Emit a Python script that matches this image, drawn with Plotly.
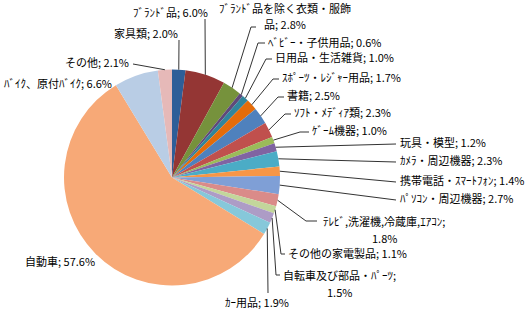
import math
import plotly.graph_objects as go

# ---- data ----
categories = [
    "家具類", "ﾌﾞﾗﾝﾄﾞ品", "ﾌﾞﾗﾝﾄﾞ品を除く衣類・服飾品", "ﾍﾞﾋﾞｰ・子供用品", "日用品・生活雑貨",
    "ｽﾎﾟｰﾂ・ﾚｼﾞｬｰ用品", "書籍", "ｿﾌﾄ・ﾒﾃﾞｨｱ類", "ｹﾞｰﾑ機器", "玩具・模型",
    "ｶﾒﾗ・周辺機器", "携帯電話・ｽﾏｰﾄﾌｫﾝ", "ﾊﾟｿｺﾝ・周辺機器", "ﾃﾚﾋﾞ,洗濯機,冷蔵庫,ｴｱｺﾝ",
    "その他の家電製品", "自転車及び部品・ﾊﾟｰﾂ", "ｶｰ用品", "自動車", "ﾊﾞｲｸ、原付ﾊﾞｲｸ", "その他",
]
values = [2.0, 6.0, 2.8, 0.6, 1.0, 1.7, 2.5, 2.3, 1.0, 1.2,
          2.3, 1.4, 2.7, 1.8, 1.1, 1.5, 1.9, 57.6, 6.6, 2.1]

# ---- styles / layout ----
colors = ["#2E5E98", "#943634", "#76923C", "#5F497A", "#31859C", "#E46C0A",
          "#4F81BD", "#C0504D", "#9BBB59", "#8064A2", "#4BACC6", "#F79646",
          "#7F9FD6", "#DA8B89", "#C3D69B", "#AD9CC6", "#86C8DA", "#F7A977",
          "#B9CDE5", "#E6B9B8"]

W, H = 531, 316
CX, CY, R = 172, 177.5, 108

def px(x):
    return x / W

def py(y):
    return 1 - y / H

# label placement (pixel coords): (x, y, xanchor, line_anchor, line_end)
label_cfg = [
    (180, 33, "right", (179, 40), None),          # 家具類
    (210, 12, "right", (205, 19), None),          # ブランド品
    (285, 16, "center", (251, 27), (256, 27)),    # 衣類
    (266, 42, "left", (258, 43), (265, 43)),      # ベビー
    (273, 57, "left", (266, 59), (272, 59)),      # 日用品
    (280, 77, "left", (273, 79), (279, 79)),      # スポーツ
    (285, 95, "left", (278, 97), (284, 97)),      # 書籍
    (292, 112, "left", (285, 114), (291, 114)),   # ソフト
    (310, 130, "left", (300, 132), (309, 132)),   # ゲーム
    (398, 142, "left", (396, 144), None),         # 玩具
    (398, 160, "left", (396, 162), None),         # カメラ
    (398, 180, "left", (396, 182), None),         # 携帯
    (398, 198, "left", (396, 200), None),         # パソコン
    (384, 229, "center", (306, 221), (317, 221)), # テレビ
    (286, 253, "left", (281, 254), (285, 254)),   # その他家電
    (339, 283, "center", (276, 275), (280, 275)), # 自転車
    (257, 302, "center", (268, 293), None),       # カー用品
    (60, 261, "center", None, None),              # 自動車
    (114, 83, "right", None, None),               # バイク
    (131, 62, "right", (133, 64), None),          # その他
]
wrap_after = {2: "服飾", 13: ";", 15: ";"}
LINE_GAP = 8.5

fig = go.Figure(go.Pie(
    labels=categories, values=values, sort=False, direction="clockwise",
    rotation=0, marker=dict(colors=colors, line=dict(width=0)),
    textinfo="none", hoverinfo="label+percent", showlegend=False,
    domain=dict(x=[px(CX - R), px(CX + R)], y=[py(CY + R), py(CY - R)]),
))

font = dict(size=11, color="#000000", family="Noto Sans CJK JP")
annotations = []
shapes = []
total = sum(values)
cum = 0.0
for i, (cat, v) in enumerate(zip(categories, values)):
    mid = (cum + v / 2) / total * 2 * math.pi
    cum += v
    ex = CX + R * math.sin(mid)
    ey = CY - R * math.cos(mid)
    x, y, xa, anc, end = label_cfg[i]
    text = f"{cat}; {v:.1f}%"
    if i in wrap_after:
        key = wrap_after[i]
        idx = text.index(key) + len(key)
        parts = [text[:idx].strip(), text[idx:].strip()]
        for k, part in enumerate(parts):
            annotations.append(dict(
                x=px(x), y=py(y - LINE_GAP + 2 * LINE_GAP * k), xref="paper", yref="paper",
                text=part, showarrow=False, xanchor=xa, yanchor="middle",
                font=font,
            ))
    else:
        annotations.append(dict(
            x=px(x), y=py(y), xref="paper", yref="paper", text=text,
            showarrow=False, xanchor=xa, yanchor="middle", font=font,
        ))
    if anc is not None:
        path = f"M {px(ex)} {py(ey)} L {px(anc[0])} {py(anc[1])}"
        if end is not None:
            path += f" L {px(end[0])} {py(end[1])}"
        shapes.append(dict(type="path", xref="paper", yref="paper", path=path,
                           line=dict(color="#333333", width=1)))

fig.update_layout(
    width=W, height=H, margin=dict(l=0, r=0, t=0, b=0),
    paper_bgcolor="white", plot_bgcolor="white",
    annotations=annotations, shapes=shapes,
    font=dict(family="Noto Sans CJK JP"),
)
fig.write_html("out.html")
